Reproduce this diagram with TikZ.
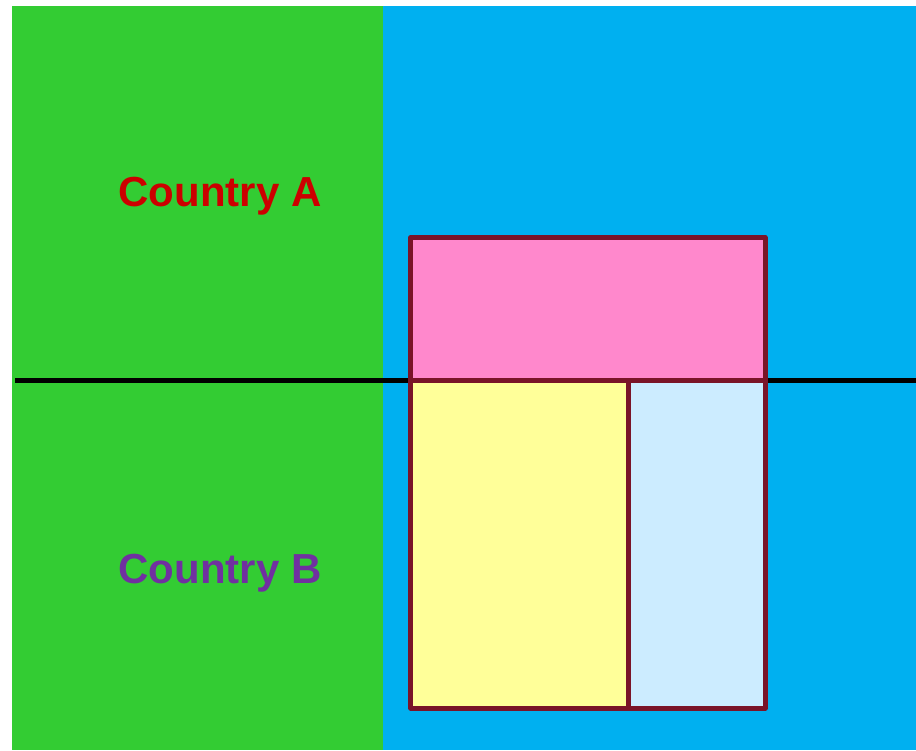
\documentclass[tikz,border=0pt]{standalone}
\usepackage{fontspec}
\setmainfont{Liberation Sans}
\definecolor{grn}{HTML}{33CC33}
\definecolor{blu}{HTML}{00B0F0}
\definecolor{pnk}{HTML}{FF88CC}
\definecolor{ylw}{HTML}{FFFF99}
\definecolor{lbl}{HTML}{CCECFF}
\definecolor{brd}{HTML}{7A1428}
\definecolor{redt}{HTML}{CC0000}
\definecolor{purt}{HTML}{7030A0}
\tikzset{
  cell/.style={draw=brd, line width=3.75pt, line join=round},
  label/.style={font=\fontsize{31.5}{36}\selectfont\bfseries, inner sep=0pt, anchor=base}
}
\begin{document}
\begin{tikzpicture}[x=0.75pt,y=-0.75pt]
\useasboundingbox (0,0) rectangle (916,750);
\fill[white] (0,0) rectangle (916,750);
\fill[grn] (12,6) rectangle (383,750);
\fill[blu] (383,6) rectangle (916,750);
\draw[line width=3.75pt] (15,380.5) -- (916,380.5);
\draw[cell, fill=pnk] (410.8,237.5) rectangle (765,380.5);
\draw[cell, fill=ylw] (410.8,380.5) rectangle (628.5,708);
\draw[cell, fill=lbl] (628.5,380.5) rectangle (765,708);
\node[label, text=redt] (ca) at (220,206) {Country A};
\node[label, text=purt] (cb) at (220,583) {Country B};
\end{tikzpicture}
\end{document}
